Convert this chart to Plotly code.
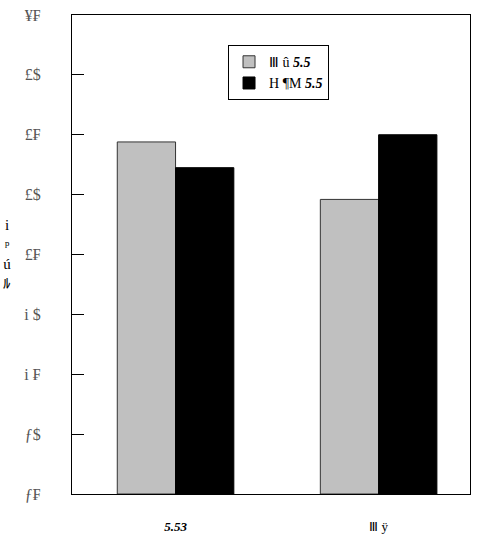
import plotly.graph_objects as go

categories = ["<b><i>5.53</i></b>", "Ⅲ ÿ"]
series_names = ["Ⅲ û <b><i>5.5</i></b>", "H ¶M <b><i>5.5</i></b>"]
gray_values = [5.88, 4.92]
black_values = [5.45, 6.0]
tick_vals = [0, 1, 2, 3, 4, 5, 6, 7, 8]
tick_text = ["ƒ₣", "ƒ$", "i ₣", "i $", "£₣", "£$", "£₣", "£$", "¥₣"]
y_title = "i<br>ᵖ<br>ú<br>ﾙ"

x_pos = [0, 1]
serif = "Liberation Serif, Times New Roman, serif"

fig = go.Figure()
fig.add_trace(go.Bar(x=x_pos, y=gray_values, name=series_names[0],
                     marker=dict(color="#C0C0C0", line=dict(color="#333333", width=1))))
fig.add_trace(go.Bar(x=x_pos, y=black_values, name=series_names[1],
                     marker=dict(color="#000000", line=dict(color="#000000", width=1))))

fig.update_layout(
    width=490, height=535,
    margin=dict(l=72, r=20, t=15, b=41, autoexpand=False),
    paper_bgcolor="white", plot_bgcolor="white",
    barmode="group", bargap=0.426, bargroupgap=0,
    font=dict(family=serif, size=13, color="#000000"),
    showlegend=True,
    legend=dict(x=0.392, y=0.937, xanchor="left", yanchor="top",
                bgcolor="white", bordercolor="#000000", borderwidth=1,
                font=dict(family=serif, size=14, color="#000000"),
                tracegroupgap=4, itemwidth=30),
    xaxis=dict(range=[-0.51, 1.45], tickvals=x_pos, ticktext=categories,
               showline=True, linecolor="#000000", linewidth=1, mirror=True,
               ticks="", showgrid=False, zeroline=False, automargin=False,
               ticklabelstandoff=20,
               tickfont=dict(family=serif, size=13, color="#000000")),
    yaxis=dict(range=[0, 8], tickvals=tick_vals, ticktext=tick_text,
               showline=True, linecolor="#000000", linewidth=1, mirror=True,
               ticks="inside", ticklen=12, tickcolor="#000000",
               showgrid=False, zeroline=False, automargin=False,
               ticklabelstandoff=27,
               tickfont=dict(family=serif, size=16, color="#555555")),
)

fig.add_annotation(text=y_title, xref="paper", yref="paper",
                   x=-0.178, y=0.5, xanchor="left", yanchor="middle",
                   showarrow=False, align="center",
                   font=dict(family=serif, size=15, color="#000000"))

fig.write_html("out.html")
